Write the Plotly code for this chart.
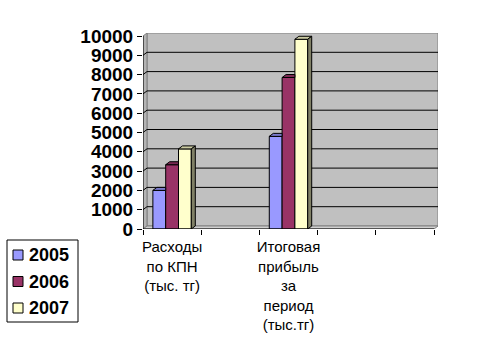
import plotly.graph_objects as go

# ---- data -------------------------------------------------------------
categories = [
    "Расходы<br>по КПН<br>(тыс. тг)",
    "",
    "Итоговая<br>прибыль<br>за<br>период<br>(тыс.тг)",
    "",
    "",
]
years = ["2005", "2006", "2007"]
values_2005 = [2000, None, 4800, None, None]
values_2006 = [3330, None, 7850, None, None]
values_2007 = [4150, None, 9830, None, None]
y_ticks = list(range(0, 10001, 1000))
y_tick_labels = [str(t) for t in y_ticks]

# ---- styling ----------------------------------------------------------
front_colors = ["#9999FF", "#993366", "#FFFFCC"]
top_colors = ["#7A7ACC", "#7A2952", "#CCCCA3"]
side_colors = ["#4D4D80", "#4D1A33", "#808066"]
FONT = "Liberation Sans, Arial, sans-serif"

W, H = 504, 344
M_L, M_R, M_T, M_B = 143, 66, 33, 115
PX_PER_CAT = 58.2                 # category slot width in pixels
PX_PER_UNIT = 193 / 10000         # vertical pixels per value unit
DX = 4 / PX_PER_CAT               # 3-D depth, horizontal
DY = 3 / PX_PER_UNIT              # 3-D depth, vertical
BARGAP = 0.34

plot_w = W - M_L - M_R
plot_h = H - M_T - M_B
x_min = -0.5
x_max = x_min + plot_w / PX_PER_CAT
y_max = plot_h / PX_PER_UNIT


def paper_x(px):
    return (px - M_L) / plot_w


def paper_y(py):
    return (H - M_B - py) / plot_h


xs = list(range(len(categories)))
series = [values_2005, values_2006, values_2007]
n = len(series)
bar_w = (1 - BARGAP) / n

fig = go.Figure()

# front faces of the bars
for name, vals, col in zip(years, series, front_colors):
    fig.add_trace(go.Bar(
        x=xs, y=vals, name=name,
        marker=dict(color=col, line=dict(color="black", width=1)),
        hoverinfo="skip", showlegend=False,
    ))


# top and side faces giving the bars their depth
def face(points, color):
    px = [p[0] for p in points] + [points[0][0]]
    py = [p[1] for p in points] + [points[0][1]]
    fig.add_trace(go.Scatter(
        x=px, y=py, mode="lines", fill="toself", fillcolor=color,
        line=dict(color="black", width=1), showlegend=False, hoverinfo="skip",
    ))


for i, vals in enumerate(series):
    for k, v in enumerate(vals):
        if v is None:
            continue
        xl = xs[k] - (1 - BARGAP) / 2 + i * bar_w
        xr = xl + bar_w
        nxt = series[i + 1][k] if i + 1 < n else None
        covered = nxt is not None and nxt >= v
        if covered:
            face([(xl, v), (xl + DX, v + DY), (xr, v + DY), (xr, v)], top_colors[i])
        else:
            face([(xl, v), (xl + DX, v + DY), (xr + DX, v + DY), (xr, v)], top_colors[i])
            if nxt:
                face([(xr, nxt), (xr, v), (xr + DX, v + DY), (xr + DX, nxt)], side_colors[i])
            else:
                face([(xr, 0), (xr, v), (xr + DX, v + DY), (xr + DX, DY)], side_colors[i])

# walls, floor and gridlines of the 3-D box
shapes = [
    dict(type="rect", xref="x", yref="y", x0=x_min + DX, x1=x_max, y0=DY, y1=y_max,
         fillcolor="#C0C0C0", line=dict(color="#808080", width=1), layer="below"),
    dict(type="path", xref="x", yref="y",
         path=f"M{x_min},0 L{x_min + DX},{DY} L{x_min + DX},{y_max} L{x_min},{y_ticks[-1]} Z",
         fillcolor="#B4B4B4", line=dict(color="#808080", width=1), layer="below"),
    dict(type="path", xref="x", yref="y",
         path=f"M{x_min},0 L{x_min + DX},{DY} L{x_max},{DY} L{x_max - DX},0 Z",
         fillcolor="#D0D0D0", line=dict(color="#808080", width=1), layer="below"),
]
for t in y_ticks[1:-1]:
    shapes.append(dict(
        type="path", xref="x", yref="y",
        path=f"M{x_min},{t} L{x_min + DX},{t + DY} L{x_max},{t + DY}",
        line=dict(color="black", width=1), layer="below",
    ))
# front axis lines
shapes.append(dict(type="line", xref="x", yref="y", x0=x_min, x1=x_min,
                   y0=0, y1=y_ticks[-1], line=dict(color="black", width=1)))
shapes.append(dict(type="line", xref="x", yref="y", x0=x_min, x1=xs[-1] + 0.5,
                   y0=0, y1=0, line=dict(color="black", width=1)))

# legend box with one swatch and label per year
annotations = []
LEG_LEFT, LEG_TOP, LEG_RIGHT, LEG_BOTTOM = 7, 240, 78, 322
shapes.append(dict(type="rect", xref="paper", yref="paper",
                   x0=paper_x(LEG_LEFT), x1=paper_x(LEG_RIGHT),
                   y0=paper_y(LEG_BOTTOM), y1=paper_y(LEG_TOP),
                   fillcolor="white", line=dict(color="black", width=1)))
for j, (name, col) in enumerate(zip(years, front_colors)):
    cy = 255 + 26.5 * j
    shapes.append(dict(type="rect", xref="paper", yref="paper",
                       x0=paper_x(13), x1=paper_x(23),
                       y0=paper_y(cy + 5), y1=paper_y(cy - 5),
                       fillcolor=col, line=dict(color="black", width=1)))
    annotations.append(dict(
        xref="paper", yref="paper", x=paper_x(27), y=paper_y(cy),
        xanchor="left", yanchor="middle", showarrow=False, text=name,
        font=dict(family=FONT, size=18, color="black", weight="bold"),
    ))

fig.update_layout(
    width=W, height=H,
    margin=dict(l=M_L, r=M_R, t=M_T, b=M_B, pad=0),
    paper_bgcolor="white", plot_bgcolor="white",
    barmode="group", bargap=BARGAP, bargroupgap=0,
    shapes=shapes, annotations=annotations,
    showlegend=False,
    xaxis=dict(
        range=[x_min, x_max], showgrid=False, zeroline=False, showline=False,
        tickvals=xs, ticktext=categories, ticks="",
        tickfont=dict(family=FONT, size=15, color="black"),
        ticklabelstandoff=7,
        minor=dict(tickvals=[x - 0.5 for x in xs] + [xs[-1] + 0.5],
                   ticks="outside", ticklen=5, tickcolor="black", showgrid=False),
        fixedrange=True,
    ),
    yaxis=dict(
        range=[0, y_max], showgrid=False, zeroline=False, showline=False,
        tickvals=y_ticks, ticktext=y_tick_labels,
        ticks="outside", ticklen=5, tickcolor="black",
        tickfont=dict(family=FONT, size=19, color="black", weight="bold"),
        fixedrange=True,
    ),
)

fig.write_html("out.html")
